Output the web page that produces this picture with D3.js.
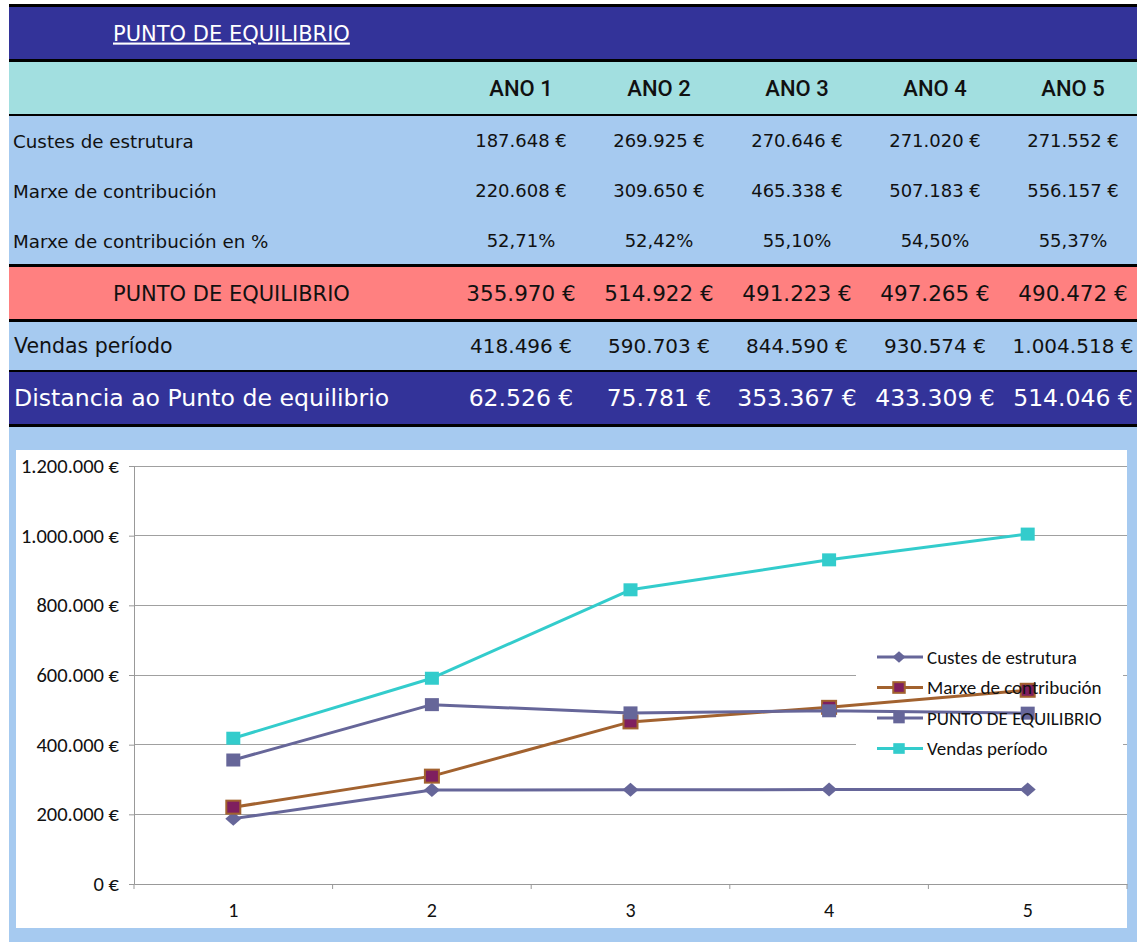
<!DOCTYPE html>
<html><head><meta charset="utf-8">
<script src="https://cdn.jsdelivr.net/npm/d3@7/dist/d3.min.js"></script>
<style>body{margin:0;background:#fff}svg{display:block}</style>
</head><body><svg id="c" width="1137" height="942"></svg>
<script>
// ---- data ----
const years = ["ANO 1","ANO 2","ANO 3","ANO 4","ANO 5"];
const xLabels = ["1","2","3","4","5"];
const custes = [187648, 269925, 270646, 271020, 271552];
const marxe = [220608, 309650, 465338, 507183, 556157];
const marxePct = [52.71, 52.42, 55.10, 54.50, 55.37];
const puntoEq = [355970, 514922, 491223, 497265, 490472];
const vendas = [418496, 590703, 844590, 930574, 1004518];
const distancia = [62526, 75781, 353367, 433309, 514046];
const yTicks = [0, 200000, 400000, 600000, 800000, 1000000, 1200000];
const seriesNames = ["Custes de estrutura","Marxe de contribución","PUNTO DE EQUILIBRIO","Vendas período"];

const loc = d3.formatLocale({decimal:",", thousands:".", grouping:[3], currency:["",""]});
const fEur = v => loc.format(",.0f")(v) + " €";
const fPct = v => loc.format(",.2f")(v) + "%";

const svg = d3.select("#c");
const W = 1137;
const DARK = "#333399", CYAN = "#A2DFE0", LBLUE = "#A6CAF0", PINK = "#FF8080";
const TF = "'DejaVu Sans', Verdana, sans-serif";

// ---- table backgrounds ----
const bands = [
  {y:4, h:3, c:"#000"},
  {y:7, h:52, c:DARK},
  {y:59, h:3, c:"#000"},
  {y:62, h:52, c:CYAN},
  {y:114, h:2, c:"#000"},
  {y:116, h:148, c:LBLUE},
  {y:264, h:3, c:"#000"},
  {y:267, h:52, c:PINK},
  {y:319, h:3, c:"#000"},
  {y:322, h:48, c:LBLUE},
  {y:370, h:2, c:"#000"},
  {y:372, h:52, c:DARK},
  {y:424, h:3, c:"#000"},
  {y:427, h:515, c:LBLUE}
];
svg.selectAll("rect.band").data(bands).join("rect").attr("class","band")
  .attr("x",9).attr("y",d=>d.y).attr("width",W-9).attr("height",d=>d.h).attr("fill",d=>d.c);

const col = d3.scaleBand().domain(years).range([452, 1142]);
const cx = i => col(years[i]) + col.bandwidth()/2;

// title
svg.append("text").attr("x",113).attr("y",33).attr("dy","0.36em").attr("fill","#fff")
  .style("font-family",TF).style("font-size","21px").style("text-decoration","underline")
  .text("PUNTO DE EQUILIBRIO");

// header
svg.selectAll("text.hdr").data(years).join("text").attr("class","hdr")
  .attr("x",(d,i)=>cx(i)).attr("y",88).attr("dy","0.36em").attr("text-anchor","middle")
  .style("font-family","Roboto,'Liberation Sans',Arial,sans-serif")
  .style("font-weight","500").style("font-size","22px").attr("fill","#111").text(d=>d);

function row(label, vals, fmt, y, opt){
  const g = svg.append("g");
  g.append("text").attr("x",opt.lx).attr("y",y).attr("dy","0.36em")
    .style("font-family",TF).style("font-size",opt.ls+"px").attr("fill",opt.color)
    .text(label);
  g.selectAll("text.v").data(vals).join("text").attr("class","v")
    .attr("x",(d,i)=>cx(i)).attr("y",y).attr("dy","0.36em").attr("text-anchor","middle")
    .style("font-family",TF).style("font-size",opt.vs+"px").attr("fill",opt.color)
    .text(fmt);
}
row("Custes de estrutura", custes, fEur, 141, {lx:13, ls:18.3, vs:18, color:"#111"});
row("Marxe de contribución", marxe, fEur, 191, {lx:13, ls:18.3, vs:18, color:"#111"});
row("Marxe de contribución en %", marxePct, fPct, 241, {lx:13, ls:18.3, vs:18, color:"#111"});
row("PUNTO DE EQUILIBRIO", puntoEq, fEur, 293, {lx:113, ls:21, vs:21.5, color:"#111"});
row("Vendas período", vendas, fEur, 346, {lx:14, ls:20.5, vs:20, color:"#111"});
row("Distancia ao Punto de equilibrio", distancia, fEur, 398, {lx:14, ls:23.6, vs:23.5, color:"#fff"});

// ---- chart ----
const CF = "Carlito, Lato, 'Open Sans', sans-serif";
svg.append("rect").attr("x",16).attr("y",450).attr("width",1111).attr("height",478).attr("fill","#fff");

const x = d3.scaleBand().domain(xLabels).range([134,1127]);
const px = i => x(xLabels[i]) + x.bandwidth()/2;
const y = d3.scaleLinear().domain([0,1200000]).range([884,466]);

// gridlines
svg.append("g").selectAll("line").data(yTicks.slice(1)).join("line")
  .attr("x1",134).attr("x2",1127).attr("y1",d=>y(d)).attr("y2",d=>y(d))
  .attr("stroke","#A0A0A0").attr("stroke-width",1).attr("shape-rendering","crispEdges");

// y axis
const yAxis = d3.axisLeft(y).tickValues(yTicks).tickSize(5).tickFormat(fEur);
const gy = svg.append("g").attr("transform","translate(134,0)").call(yAxis);
gy.select(".domain").attr("stroke","#999");
gy.selectAll(".tick line").attr("stroke","#999");
gy.selectAll(".tick text").attr("x",-15).style("font-family",CF).style("font-size","20.5px").attr("fill","#111");

// x axis
const xAxis = d3.axisBottom(x).tickSize(0).tickFormat(d=>d);
const gx = svg.append("g").attr("transform","translate(0,884)").call(xAxis);
gx.select(".domain").attr("stroke","#999");
gx.selectAll(".tick text").attr("y",19).style("font-family",CF).style("font-size","20px").attr("fill","#111");
gx.append("g").selectAll("line").data(xLabels.concat(["end"])).join("line")
  .attr("x1",(d,i)=>134+i*x.bandwidth()).attr("x2",(d,i)=>134+i*x.bandwidth())
  .attr("y1",0).attr("y2",5).attr("stroke","#999");

// legend box (behind series)
svg.append("rect").attr("x",856).attr("y",638).attr("width",267).attr("height",128).attr("fill","#fff");

const series = [
  {name:seriesNames[0], vals:custes, line:"#666699", shape:"diamond", fill:"#666699", stroke:"none"},
  {name:seriesNames[1], vals:marxe, line:"#A2622F", shape:"square", fill:"#7F1F5F", stroke:"#A2622F"},
  {name:seriesNames[2], vals:puntoEq, line:"#666699", shape:"square", fill:"#666699", stroke:"none"},
  {name:seriesNames[3], vals:vendas, line:"#33CCCC", shape:"square", fill:"#33CCCC", stroke:"none"}
];
const lineGen = d3.line().x((d,i)=>px(i)).y(d=>y(d));

function marker(g, s, mx, my, k){
  if(s.shape==="diamond"){
    const w=8*k, h=7*k;
    g.append("path").attr("d",`M${mx},${my-h}L${mx+w},${my}L${mx},${my+h}L${mx-w},${my}Z`).attr("fill",s.fill);
  } else {
    const w=14*k, h=13*k;
    g.append("rect").attr("x",mx-w/2).attr("y",my-h/2).attr("width",w).attr("height",h)
      .attr("fill",s.fill).attr("stroke",s.stroke).attr("stroke-width",s.stroke==="none"?0:2);
  }
}

series.forEach(s=>{
  const g = svg.append("g");
  g.append("path").datum(s.vals).attr("d",lineGen).attr("fill","none")
    .attr("stroke",s.line).attr("stroke-width",3).attr("stroke-linejoin","round");
  s.vals.forEach((v,i)=>marker(g,s,px(i),y(v),1));
});

// legend entries
const leg = svg.append("g");
series.forEach((s,i)=>{
  const ly = 657 + i*30.5;
  leg.append("line").attr("x1",877).attr("x2",923).attr("y1",ly).attr("y2",ly)
    .attr("stroke",s.line).attr("stroke-width",3);
  marker(leg,s,899,ly,0.82);
  leg.append("text").attr("x",927).attr("y",ly).attr("dy","0.35em")
    .style("font-family",CF).style("font-size","19px").attr("fill","#111").text(s.name);
});
</script></body></html>
